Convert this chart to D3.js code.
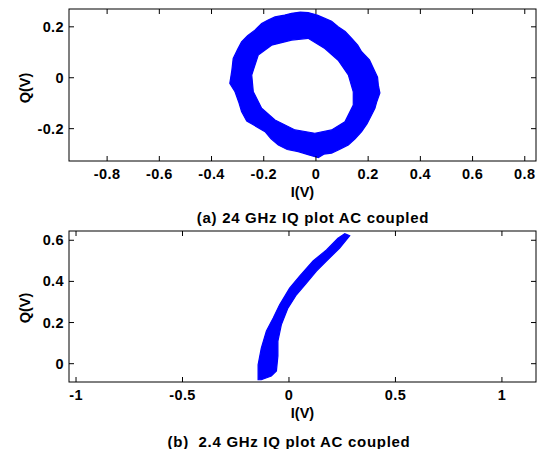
<html>
<head>
    <meta charset="utf-8">
    <script src="https://d3js.org/d3.v7.min.js"></script>
    <style>
        body { margin: 0; background: #fff; }
        text { font-family: "Liberation Sans", Arial, sans-serif; font-weight: bold; fill: #000; }
    </style>
</head>
<body>
    <svg id="svg" width="537" height="449"></svg>
    <script>
        // **** Data ****
        // (a) 24 GHz ring: outer and inner outline of the point cloud, [I, Q] in volts
        const ringOuter = [
            [-0.157, 0.239], [-0.120, 0.246], [-0.093, 0.253], [-0.060, 0.258], [-0.030, 0.256],
            [0.005, 0.246], [0.034, 0.233], [0.060, 0.222], [0.085, 0.200], [0.112, 0.182],
            [0.137, 0.155], [0.160, 0.128], [0.175, 0.102], [0.205, 0.070], [0.220, 0.037],
            [0.236, 0.002], [0.239, -0.029], [0.245, -0.060], [0.233, -0.094], [0.226, -0.120],
            [0.213, -0.146], [0.196, -0.180], [0.175, -0.212], [0.150, -0.240], [0.124, -0.264],
            [0.090, -0.282], [0.060, -0.296], [0.030, -0.300], [0.009, -0.314], [-0.030, -0.302],
            [-0.068, -0.290], [-0.110, -0.282], [-0.144, -0.264], [-0.172, -0.240], [-0.195, -0.212],
            [-0.240, -0.185], [-0.265, -0.170], [-0.285, -0.133], [-0.296, -0.095], [-0.310, -0.055],
            [-0.330, -0.022], [-0.322, 0.030], [-0.317, 0.076], [-0.300, 0.112], [-0.285, 0.141],
            [-0.262, 0.165], [-0.234, 0.187], [-0.208, 0.213], [-0.185, 0.226]
        ]
        const ringInner = [
            [-0.093, 0.148], [-0.030, 0.155], [0.034, 0.115], [0.085, 0.069], [0.124, 0.011],
            [0.143, -0.055], [0.143, -0.107], [0.111, -0.173], [0.060, -0.205], [-0.004, -0.218],
            [-0.080, -0.205], [-0.157, -0.166], [-0.208, -0.120], [-0.240, -0.055], [-0.246, 0.011],
            [-0.221, 0.089], [-0.170, 0.128]
        ]
        // (b) 2.4 GHz arc: outline of the band, [I, Q]
        const arcOutline = [
            [-0.145, -0.078], [-0.145, -0.005], [-0.130, 0.076], [-0.106, 0.159], [-0.074, 0.222],
            [-0.044, 0.286], [0.003, 0.367], [0.050, 0.426], [0.113, 0.499], [0.176, 0.553],
            [0.230, 0.610], [0.262, 0.632], [0.285, 0.622], [0.238, 0.562], [0.176, 0.499],
            [0.129, 0.450], [0.082, 0.392], [0.035, 0.335], [-0.005, 0.270], [-0.036, 0.189],
            [-0.052, 0.110], [-0.052, 0.037], [-0.059, -0.035], [-0.083, -0.060], [-0.130, -0.078]
        ]

        const topXTicks = [-0.8, -0.6, -0.4, -0.2, 0, 0.2, 0.4, 0.6, 0.8]
        const topYTicks = [-0.2, 0, 0.2]
        const botXTicks = [-1, -0.5, 0, 0.5, 1]
        const botYTicks = [0, 0.2, 0.4, 0.6]

        const svg = d3.select('#svg')

        function panel(opts) {
            const x = d3.scaleLinear().domain(opts.xDomain).range([opts.left, opts.right])
            const y = d3.scaleLinear().domain(opts.yDomain).range([opts.bottom, opts.top])
            const g = svg.append('g')
            const line = d3.line().x(d => x(d[0])).y(d => y(d[1]))

            // point clouds
            g.append('path')
                .attr('d', opts.shapes.map(s => line(s) + 'Z').join(''))
                .attr('fill', '#0000ff')
                .attr('fill-rule', 'evenodd')
                .attr('stroke', '#0000ff')
                .attr('stroke-width', 1.2)

            // box
            g.append('rect')
                .attr('x', opts.left).attr('y', opts.top)
                .attr('width', opts.right - opts.left).attr('height', opts.bottom - opts.top)
                .attr('fill', 'none').attr('stroke', '#000').attr('stroke-width', 1)

            // ticks, inward on all four sides
            const tl = 5
            g.selectAll('.xt').data(opts.xTicks).enter().append('path')
                .attr('d', d => `M${x(d)},${opts.bottom}v${-tl}M${x(d)},${opts.top}v${tl}`)
                .attr('stroke', '#000')
            g.selectAll('.yt').data(opts.yTicks).enter().append('path')
                .attr('d', d => `M${opts.left},${y(d)}h${tl}M${opts.right},${y(d)}h${-tl}`)
                .attr('stroke', '#000')

            g.selectAll('.xl').data(opts.xTicks).enter().append('text')
                .attr('x', d => x(d)).attr('y', opts.bottom + 17.5)
                .attr('text-anchor', 'middle').attr('font-size', 14.5)
                .attr('letter-spacing', 0.4)
                .text(d => String(d))
            g.selectAll('.yl').data(opts.yTicks).enter().append('text')
                .attr('x', opts.left - 5).attr('y', d => y(d) + 5)
                .attr('text-anchor', 'end').attr('font-size', 14.5)
                .attr('letter-spacing', 0.4)
                .text(d => String(d))

            g.append('text')
                .attr('x', (opts.left + opts.right) / 2).attr('y', opts.bottom + 35.5)
                .attr('text-anchor', 'middle').attr('font-size', 14.5)
                .text('I(V)')
            g.append('text')
                .attr('transform', `translate(${opts.left - 39},${opts.qY}) rotate(-90)`)
                .attr('text-anchor', 'middle').attr('font-size', 14.5)
                .text('Q(V)')
            g.append('text')
                .attr('x', opts.capX).attr('y', opts.capY)
                .attr('text-anchor', 'middle').attr('font-size', 15)
                .attr('letter-spacing', 0.7)
                .attr('xml:space', 'preserve')
                .text(opts.caption)
        }

        panel({
            left: 69, right: 536, top: 9, bottom: 161,
            xDomain: [-0.946, 0.843], yDomain: [-0.327, 0.27],
            xTicks: topXTicks, yTicks: topYTicks,
            shapes: [ringOuter, ringInner],
            qY: 88, capX: 313, capY: 223,
            caption: '(a) 24 GHz IQ plot AC coupled'
        })

        panel({
            left: 69, right: 536, top: 231, bottom: 382,
            xDomain: [-1.033, 1.16], yDomain: [-0.089, 0.645],
            xTicks: botXTicks, yTicks: botYTicks,
            shapes: [arcOutline],
            qY: 308, capX: 289, capY: 447,
            caption: '(b)  2.4 GHz IQ plot AC coupled'
        })
    </script>
</body>
</html>
